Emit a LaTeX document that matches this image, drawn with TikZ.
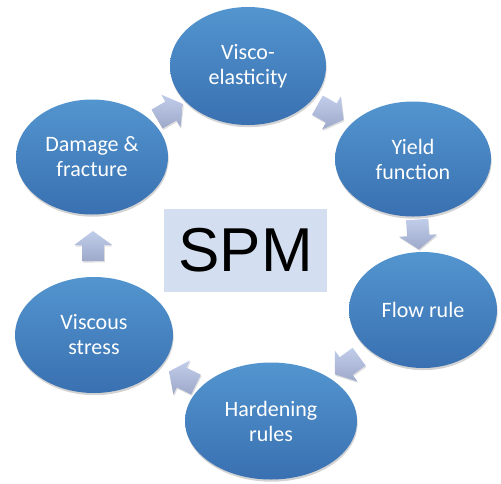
\documentclass[tikz,border=0pt]{standalone}
\usepackage{fontspec}
\setmainfont{Carlito}
\newfontfamily\spmfont{Liberation Sans}
\usetikzlibrary{shapes.geometric,shadows,calc}
\definecolor{ellTop}{HTML}{5395CF}
\definecolor{ellBot}{HTML}{3970B1}
\definecolor{arrTop}{HTML}{C0CDEA}
\definecolor{arrBot}{HTML}{9EA9CA}
\definecolor{spmFill}{HTML}{D3DFF0}
\tikzset{
  cyc/.style={ellipse, inner sep=0pt, top color=ellTop, bottom color=ellBot,
    draw=none, text=white, align=center, font=\fontsize{22}{25}\selectfont,
    drop shadow={shadow xshift=0.6pt, shadow yshift=-2.2pt, opacity=0.35}},
  blkarrow/.pic={
    \shade[top color=arrTop, bottom color=arrBot,
      drop shadow={shadow xshift=0.8pt, shadow yshift=-1.5pt, opacity=0.25}]
      (-15,-11) -- (1,-11) -- (1,-19) -- (15,0) -- (1,19) -- (1,11) -- (-15,11) -- cycle;
  },
  spmbox/.style={rectangle, fill=spmFill, inner sep=0pt,
    minimum width=163pt, minimum height=83pt, font=\spmfont\fontsize{62}{70}\selectfont}
}
\begin{document}
\begin{tikzpicture}[x=1pt, y=-1pt]
\useasboundingbox (0,0) rectangle (501,483);
\node[cyc, minimum width=156pt, minimum height=118pt] (visco) at (248,66) {Visco-\\elasticity};
\node[cyc, minimum width=156pt, minimum height=115pt] (yield) at (413,159) {Yield\\function};
\node[cyc, minimum width=148pt, minimum height=116pt] (flow) at (423,310) {Flow rule};
\node[cyc, minimum width=172pt, minimum height=117pt] (hard) at (271,421) {Hardening\\rules};
\node[cyc, minimum width=158pt, minimum height=116pt] (visc) at (94,335) {Viscous\\stress};
\node[cyc, minimum width=152pt, minimum height=115pt] (dam) at (92,157) {Damage \&\\fracture};
\node[spmbox] (spm) at (245.5,250.5) {SPM};
\path (visco.center) -- (yield.center) pic[pos=0.5, sloped, allow upside down] (a1) {blkarrow};
\path (yield.center) -- (flow.center) pic[pos=0.5, sloped, allow upside down] (a2) {blkarrow};
\path (flow.center) -- (hard.center) pic[pos=0.5, sloped, allow upside down] (a3) {blkarrow};
\path (hard.center) -- (visc.center) pic[pos=0.5, sloped, allow upside down] (a4) {blkarrow};
\path (visc.center) -- (dam.center) pic[pos=0.5, sloped, allow upside down] (a5) {blkarrow};
\path (dam.center) -- (visco.center) pic[pos=0.5, sloped, allow upside down] (a6) {blkarrow};
\end{tikzpicture}
\end{document}
